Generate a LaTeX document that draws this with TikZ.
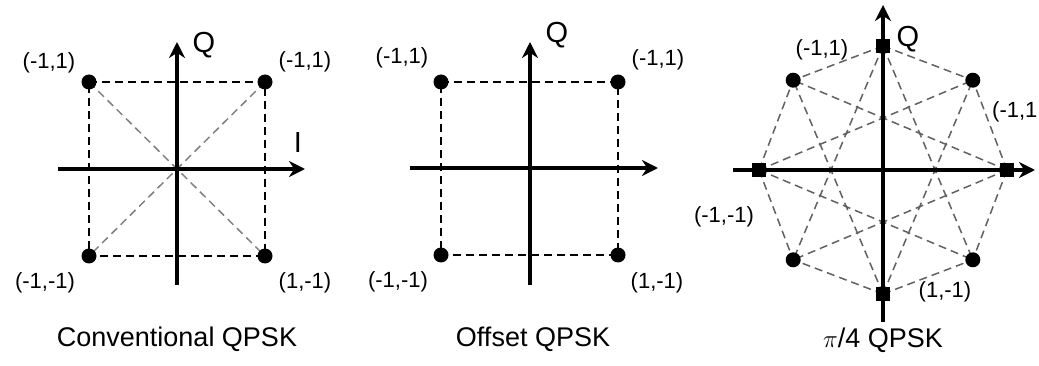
\documentclass[tikz,border=0pt]{standalone}
\usepackage{fontspec}
\setmainfont{Liberation Sans}
\usepackage{tikz}
\usetikzlibrary{arrows.meta,backgrounds}

\begin{document}
\begin{tikzpicture}[x=1pt, y=-1pt,
  lbl/.style={font=\fontsize{22}{24}\selectfont, inner sep=0pt},
  axlbl/.style={font=\fontsize{29}{32}\selectfont, inner sep=0pt},
  title/.style={font=\fontsize{27}{30}\selectfont, inner sep=0pt},
  dot/.style={circle, fill=black, inner sep=0pt, minimum size=15pt},
  sqdot/.style={rectangle, fill=black, inner sep=0pt, minimum size=14pt},
  axis/.style={line width=3.6pt, -{Stealth[length=16pt,width=16pt]}},
  grid/.style={dash pattern=on 8pt off 5pt, line width=1.5pt},
  diag/.style={grid, black!50},
  star/.style={grid, black!62}]
  \useasboundingbox (0,0) rectangle (1039,366);

  % conventional QPSK
  \begin{scope}[shift={(177,169)}]
    \node[dot] (a1) at (-88,-87) {};
    \node[dot] (a2) at (88,-87) {};
    \node[dot] (a3) at (-88,87) {};
    \node[dot] (a4) at (88,87) {};
    \coordinate (a1w) at (-119,0);
    \coordinate (a1e) at (128,0);
    \coordinate (a1s) at (0,116);
    \coordinate (a1n) at (0,-127);
    \begin{scope}[on background layer]
      \draw[grid] (a1.center) -- (a2.center) -- (a4.center) -- (a3.center) -- cycle;
      \draw[diag] (a1.center) -- (a4.center);
      \draw[diag] (a2.center) -- (a3.center);
      \draw[axis] (a1w) -- (a1e);
      \draw[axis] (a1s) -- (a1n);
    \end{scope}
    \node[lbl] (a1l) at (-128,-106) {(-1,1)};
    \node[lbl] (a2l) at (128,-107) {(-1,1)};
    \node[lbl] (a3l) at (-132,114) {(-1,-1)};
    \node[lbl] (a4l) at (128,114) {(1,-1)};
    \node[axlbl] (a1q) at (27,-124) {Q};
    \node[axlbl] (a1i) at (121,-26) {I};
    \node[title] (a1c) at (0,170) {Conventional QPSK};
  \end{scope}

  % offset QPSK
  \begin{scope}[shift={(530,168)}]
    \node[dot] (b1) at (-89,-86) {};
    \node[dot] (b2) at (88,-86) {};
    \node[dot] (b3) at (-89,87) {};
    \node[dot] (b4) at (88,87) {};
    \coordinate (b1w) at (-120,0);
    \coordinate (b1e) at (128,0);
    \coordinate (b1s) at (0,117);
    \coordinate (b1n) at (0,-126);
    \begin{scope}[on background layer]
      \draw[grid] (b1.center) -- (b2.center) -- (b4.center) -- (b3.center) -- cycle;
      \draw[axis] (b1w) -- (b1e);
      \draw[axis] (b1s) -- (b1n);
    \end{scope}
    \node[lbl] (b1l) at (-128,-110) {(-1,1)};
    \node[lbl] (b2l) at (128,-108) {(-1,1)};
    \node[lbl] (b3l) at (-132,114) {(-1,-1)};
    \node[lbl] (b4l) at (127,115) {(1,-1)};
    \node[axlbl] (b1q) at (27,-133) {Q};
    \node[title] (b1c) at (3,171) {Offset QPSK};
  \end{scope}

  % pi/4 QPSK
  \begin{scope}[shift={(883,170)}]
    \foreach \k in {0,2,4,6}
      \node[sqdot] (p\k) at (\k*45:124) {};
    \foreach \k in {1,3,5,7}
      \node[dot] (p\k) at (\k*45:127) {};
    \coordinate (p0w) at (-150,0);
    \coordinate (p0e) at (152,0);
    \coordinate (p0s) at (0,152);
    \coordinate (p0n) at (0,-165);
    \begin{scope}[on background layer]
      \foreach \i in {0,2,4,6}
        \foreach \j in {1,3,5,7}
          \draw[star] (p\i.center) -- (p\j.center);
      \draw[axis] (p0w) -- (p0e);
      \draw[axis] (p0s) -- (p0n);
    \end{scope}
    \node[lbl] (p1l) at (-61,-120) {(-1,1)};
    \node[lbl, anchor=west] (p2l) at (109,-58) {(-1,1};
    \node[lbl] (p3l) at (-159,47) {(-1,-1)};
    \node[lbl] (p4l) at (62,122) {(1,-1)};
    \node[axlbl] (p0q) at (25,-131) {Q};
    \node[title] (p0c) at (0,170) {$\pi$/4 QPSK};
  \end{scope}
\end{tikzpicture}
\end{document}
